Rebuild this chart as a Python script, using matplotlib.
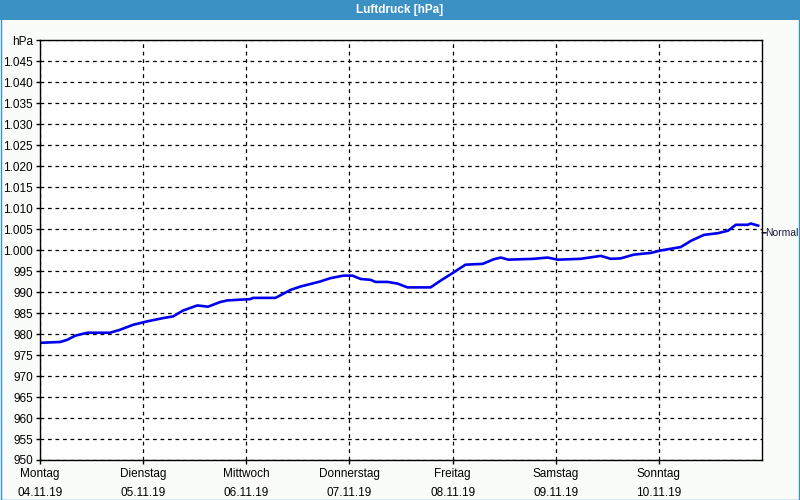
import matplotlib
matplotlib.use('Agg')
import matplotlib.pyplot as plt
from matplotlib.patches import Rectangle

# Stunden ab Montag 00:00 und Luftdruck in hPa
hours = [0, 4.7, 6.3, 8.2, 11, 16.3, 18.6, 21.7, 24.9, 28.7, 31, 33.3, 36.6, 39.1,
         41.9, 43.6, 48.9, 49.6, 54.8, 58.3, 60.6, 65.2, 67.6, 70.6, 72.7, 74.6,
         76.9, 78.1, 80.9, 83.2, 85.5, 90.9, 93.2, 96, 99, 103, 105.6, 107.2, 109,
         114.9, 118.1, 120.5, 125.8, 130.5, 132.8, 135.1, 138.2, 142.1, 144.5,
         149.1, 151.5, 154.5, 157.7, 160.1, 161.9, 164.7, 165.4, 167.1]
pressure = [977.9, 978.1, 978.6, 979.6, 980.3, 980.3, 981.0, 982.2, 983.0, 983.8,
            984.2, 985.6, 986.8, 986.5, 987.6, 988.0, 988.3, 988.6, 988.6, 990.5,
            991.3, 992.5, 993.3, 993.9, 993.9, 993.1, 992.9, 992.4, 992.4, 992.0,
            991.1, 991.1, 992.7, 994.5, 996.5, 996.7, 997.8, 998.2, 997.7, 997.9,
            998.2, 997.7, 997.9, 998.6, 997.9, 998.0, 998.9, 999.3, 999.9, 1000.7,
            1002.2, 1003.6, 1004.0, 1004.6, 1006.0, 1006.0, 1006.3, 1005.8]

day_names = ["Montag", "Dienstag", "Mittwoch", "Donnerstag", "Freitag", "Samstag", "Sonntag"]
day_dates = ["04.11.19", "05.11.19", "06.11.19", "07.11.19", "08.11.19", "09.11.19", "10.11.19"]
y_ticks = list(range(950, 1051, 5))
normal_value = 1004.1

plt.rcParams['font.family'] = ['Liberation Sans', 'DejaVu Sans']

fig = plt.figure(figsize=(8, 5), dpi=100)
fig.patch.set_facecolor('#fafcfa')

# Titelleiste und Rahmen
fig.patches.append(Rectangle((0, 0.96), 1, 0.04, transform=fig.transFigure,
                             facecolor='#3c91c4', edgecolor='none'))
fig.patches.append(Rectangle((0.001, 0.001), 0.998, 0.998, transform=fig.transFigure,
                             facecolor='none', edgecolor='#3c91c4', linewidth=1))
fig.text(0.5, 0.979, "Luftdruck [hPa]", color='white', ha='center', va='center',
         fontsize=8.5, fontweight='bold')

ax = fig.add_axes([0.05, 0.08, 0.9025, 0.84])
ax.set_facecolor('white')

x = [h / 24 for h in hours]
ax.plot(x, pressure, color='#0000ee', linewidth=1.9)

ax.set_xlim(0, 7)
ax.set_ylim(950, 1050)

ax.set_yticks(y_ticks)
ylabels = []
for v in y_ticks:
    if v == 1050:
        ylabels.append("hPa")
    elif v >= 1000:
        ylabels.append("1.%03d" % (v - 1000))
    else:
        ylabels.append(str(v))
ax.set_yticklabels(ylabels)

ax.set_xticks(range(7))
ax.set_xticklabels([n + "\n" + d for n, d in zip(day_names, day_dates)], linespacing=1.7)

ax.tick_params(axis='both', labelsize=8.5, length=3, width=1, color='black', direction='out')
ax.tick_params(axis='x', pad=3)
ax.tick_params(axis='y', pad=2)

ax.grid(True, color='black', linestyle=(0, (3, 3)), linewidth=0.9)
for s in ax.spines.values():
    s.set_color('black')
    s.set_linewidth(1)

# Normaldruck
ax.annotate("", xy=(7, normal_value), xytext=(3, 0), textcoords='offset points',
            arrowprops=dict(arrowstyle='-', color='black', lw=1, shrinkA=0, shrinkB=0),
            annotation_clip=False)
ax.annotate("Normal", xy=(7, normal_value), xytext=(2.2, 0), textcoords='offset points',
            fontsize=7.5, color='#1a1a40', va='center', ha='left', annotation_clip=False)

fig.savefig("out.png", dpi=100, facecolor=fig.get_facecolor())
